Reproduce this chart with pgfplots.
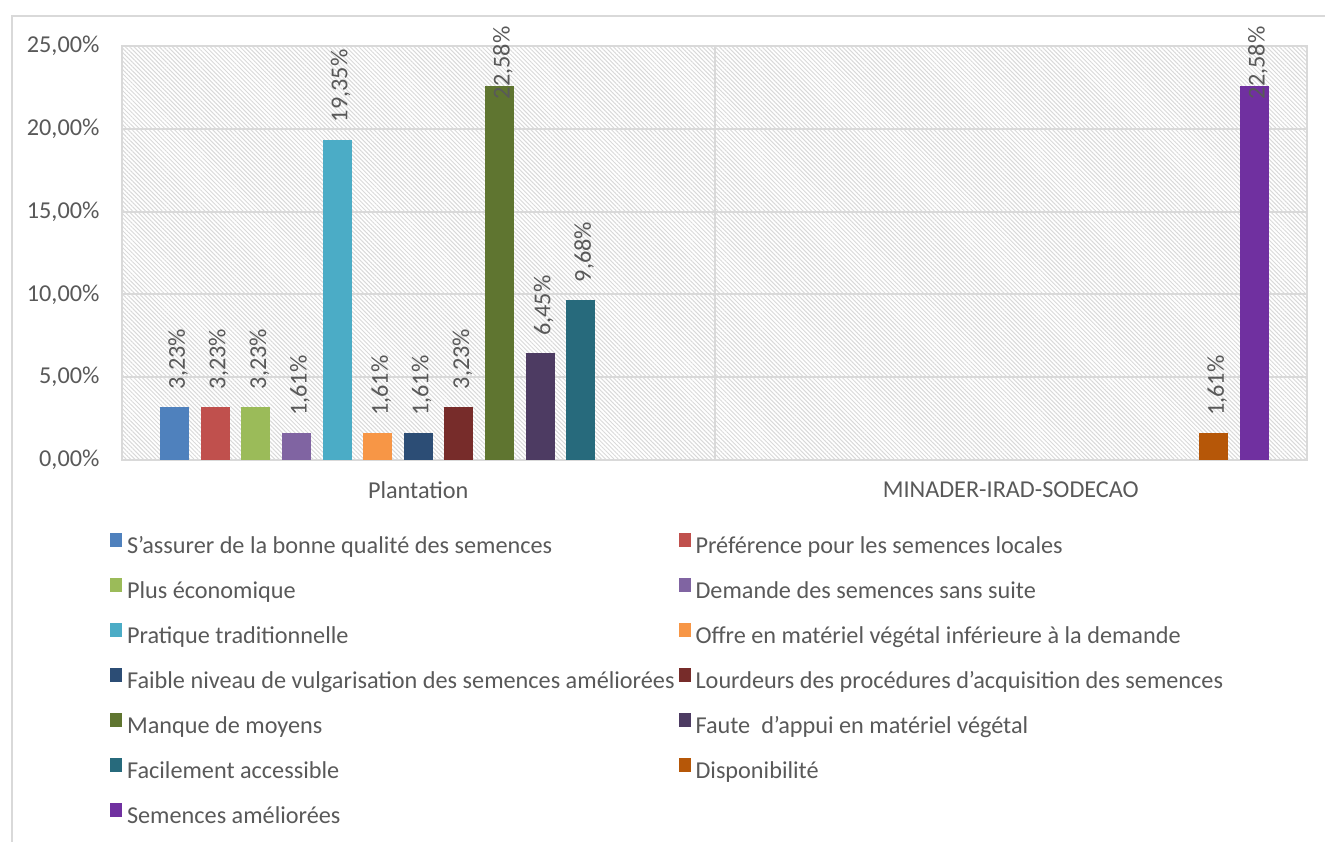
\documentclass[border=0pt]{standalone}
\usepackage{fontspec}
\setmainfont{Carlito}
\usepackage{pgfplots}
\pgfplotsset{compat=1.18}
\usetikzlibrary{patterns.meta}
\definecolor{c1}{HTML}{4F81BD}
\definecolor{c2}{HTML}{C0504D}
\definecolor{c3}{HTML}{9BBB59}
\definecolor{c4}{HTML}{8064A2}
\definecolor{c5}{HTML}{4BACC6}
\definecolor{c6}{HTML}{F79646}
\definecolor{c7}{HTML}{2C4D75}
\definecolor{c8}{HTML}{772C2A}
\definecolor{c9}{HTML}{5F7530}
\definecolor{c10}{HTML}{4D3B62}
\definecolor{c11}{HTML}{276A7C}
\definecolor{c12}{HTML}{B65708}
\definecolor{c13}{HTML}{7030A0}
\definecolor{txt}{HTML}{595959}
\definecolor{grd}{HTML}{D9D9D9}
\newcommand{\chfont}{\fontsize{9.7}{11.6}\selectfont}
\begin{document}
\chfont
\begin{tikzpicture}[font=\chfont]
\useasboundingbox (0,0) rectangle (530pt,-336.8pt);
\draw[grd, line width=0.8pt] (4.8pt,-345pt) -- (4.8pt,-6.4pt) -- (540pt,-6.4pt);
\begin{axis}[
  at={(48.8pt,-184pt)}, anchor=south west,
  width=474pt, height=165.6pt, scale only axis,
  xmin=-0.5, xmax=1.5, ymin=0, ymax=25,
  ybar=4.64pt, bar width=11.6pt,
  xtick={0,1}, xticklabels={Plantation, MINADER-IRAD-SODECAO},
  extra x ticks={0.5}, extra x tick labels={},
  extra x tick style={grid=major, major tick length=0pt},
  major tick length=0pt,
  ytick={0,5,10,15,20,25},
  yticklabel={\pgfmathprintnumber[fixed,fixed zerofill,precision=2,use comma]{\tick}\%},
  /pgf/number format/assume math mode=true,
  ymajorgrids,
  grid style={grd, line width=0.8pt},
  axis line style={grd, line width=0.8pt},
  tick label style={text=txt, font=\chfont},
  yticklabel style={anchor=east, xshift=-5.6pt},
  xticklabel style={anchor=north, yshift=-5.2pt},
  axis background/.style={pattern={Lines[angle=-45,distance=1.2pt,line width=0.4pt]}, pattern color=grd},
  clip=false,
  nodes near coords={\pgfmathprintnumber[fixed,fixed zerofill,precision=2,use comma]{\pgfplotspointmeta}\%},
  every node near coord/.append style={rotate=90, anchor=west, inner sep=0pt, xshift=6.8pt, yshift=-1.4pt, text=txt, font=\chfont},
  legend image code/.code={\fill[#1] (0pt,0.3pt) rectangle (4.8pt,5.9pt);},
  legend columns=2,
  legend cell align=left,
  legend style={draw=none, fill=none, at={(axis description cs:-0.0101,-0.176)}, anchor=north west,
    inner sep=0pt, outer sep=0pt, text=txt, font=\chfont,
    nodes={inner sep=0pt, text height=7pt, text depth=2pt},
    row sep=7.6pt,
    /tikz/every odd column/.append style={column sep=2pt},
    /tikz/every even column/.append style={column sep=1.6pt}},
]
\addplot[fill=c1, draw=none] coordinates {(0,3.23)};
\addlegendentry{S’assurer de la bonne qualité des semences}
\addplot[fill=c2, draw=none] coordinates {(0,3.23)};
\addlegendentry{Préférence pour les semences locales}
\addplot[fill=c3, draw=none] coordinates {(0,3.23)};
\addlegendentry{Plus économique}
\addplot[fill=c4, draw=none] coordinates {(0,1.61)};
\addlegendentry{Demande des semences sans suite}
\addplot[fill=c5, draw=none] coordinates {(0,19.35)};
\addlegendentry{Pratique traditionnelle}
\addplot[fill=c6, draw=none] coordinates {(0,1.61)};
\addlegendentry{Offre en matériel végétal inférieure à la demande}
\addplot[fill=c7, draw=none] coordinates {(0,1.61)};
\addlegendentry{Faible niveau de vulgarisation des semences améliorées}
\addplot[fill=c8, draw=none] coordinates {(0,3.23)};
\addlegendentry{Lourdeurs des procédures d’acquisition des semences}
\addplot[fill=c9, draw=none, nodes near coords style={anchor=east, xshift=17.2pt}] coordinates {(0,22.58)};
\addlegendentry{Manque de moyens}
\addplot[fill=c10, draw=none] coordinates {(0,6.45)};
\addlegendentry{Faute~~d’appui en matériel végétal}
\addplot[fill=c11, draw=none] coordinates {(0,9.68)};
\addlegendentry{Facilement accessible}
\addplot[fill=c12, draw=none] coordinates {(1,1.61)};
\addlegendentry{Disponibilité}
\addplot[fill=c13, draw=none, nodes near coords style={anchor=east, xshift=17.2pt}] coordinates {(1,22.58)};
\addlegendentry{Semences améliorées}
\end{axis}
\end{tikzpicture}
\end{document}
